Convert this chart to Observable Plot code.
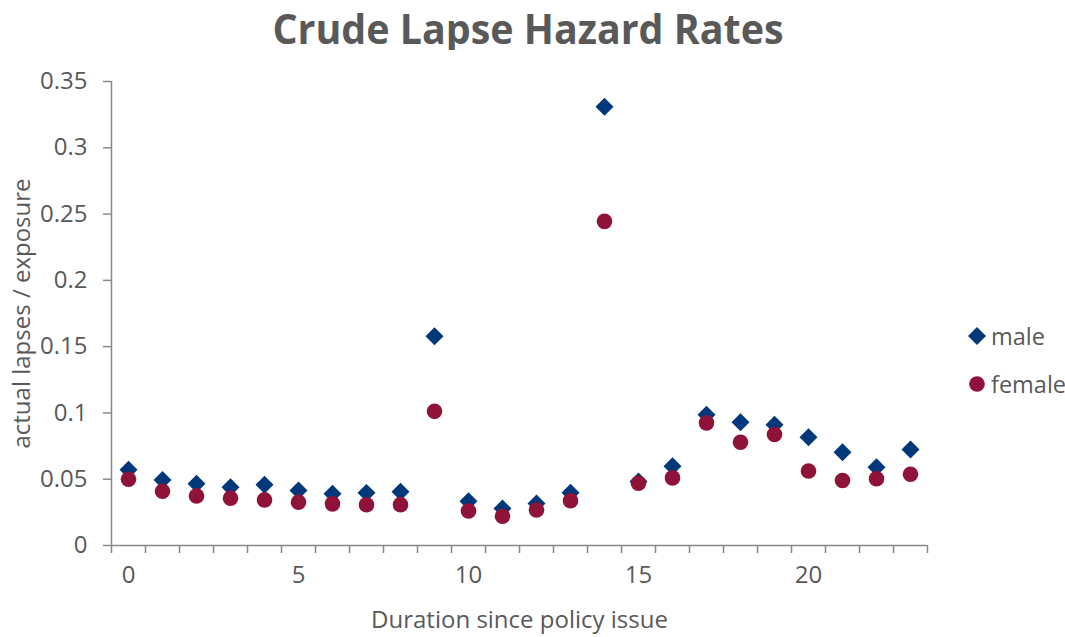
<!DOCTYPE html>
<html><head><meta charset="utf-8">
<script src="https://cdn.jsdelivr.net/npm/d3@7"></script>
<script src="https://cdn.jsdelivr.net/npm/@observablehq/plot@0.6"></script>
<style>
body{margin:0;background:#fff;font-family:"Open Sans",sans-serif;}
#wrap{position:relative;width:1065px;height:637px;overflow:hidden;}
#title{position:absolute;left:0;top:0;width:1055px;height:56px;text-align:center;font-family:"Open Sans",sans-serif;font-weight:700;font-size:41px;line-height:56px;color:#595959;white-space:nowrap;}
#title span{display:inline-block;transform-origin:center;}
#chart{position:absolute;left:0;top:50px;}
#legend{position:absolute;left:966px;top:319px;font-size:23.5px;color:#595959;}
#legend div{display:flex;align-items:center;height:34px;margin-bottom:14px;}
#legend svg{margin-right:3px;}
</style></head><body>
<div id="wrap">
<div id="title"><span>Crude Lapse Hazard Rates</span></div>
<div id="chart"></div>
<div id="legend"></div>
</div>
<script>
const durations = [0,1,2,3,4,5,6,7,8,9,10,11,12,13,14,15,16,17,18,19,20,21,22,23];
const male   = [0.0572,0.0495,0.0465,0.0439,0.0458,0.0415,0.0390,0.0397,0.0405,0.1578,0.0334,0.0279,0.0317,0.0398,0.3309,0.0482,0.0598,0.0987,0.0930,0.0910,0.0816,0.0703,0.0590,0.0724];
const female = [0.0500,0.0409,0.0374,0.0357,0.0344,0.0327,0.0314,0.0307,0.0308,0.1012,0.0260,0.0221,0.0268,0.0338,0.2445,0.0470,0.0510,0.0925,0.0779,0.0837,0.0562,0.0490,0.0503,0.0538];
const yTicks = [0,0.05,0.1,0.15,0.2,0.25,0.3,0.35];
const xLabelTicks = [0,5,10,15,20];
const xBoundaryTicks = [-0.5,0.5,1.5,2.5,3.5,4.5,5.5,6.5,7.5,8.5,9.5,10.5,11.5,12.5,13.5,14.5,15.5,16.5,17.5,18.5,19.5,20.5,21.5,22.5,23.5];
const seriesNames = ["male","female"];
const seriesColors = ["#00387a","#8f1239"];
const xTitle = "Duration since policy issue";
const yTitle = "actual lapses / exposure";

const maleRows = durations.map((d,i)=>({duration:d, rate:male[i]}));
const femaleRows = durations.map((d,i)=>({duration:d, rate:female[i]}));
const axisColor = "#898989", textColor = "#595959";

const chart = Plot.plot({
  width:1065, height:587,
  marginLeft:111, marginRight:138, marginTop:31, marginBottom:92,
  x:{domain:[xBoundaryTicks[0], xBoundaryTicks[xBoundaryTicks.length-1]]},
  y:{domain:[yTicks[0], yTicks[yTicks.length-1]]},
  style:{fontFamily:"'Open Sans', sans-serif", fontSize:"24px", color:textColor, background:"#fff"},
  marks:[
    Plot.ruleY([0], {stroke:axisColor, strokeWidth:1.5}),
    Plot.ruleX([xBoundaryTicks[0]], {stroke:axisColor, strokeWidth:1.5}),
    Plot.axisY(yTicks, {tickSize:8, tickPadding:16, stroke:axisColor, strokeWidth:1.5, fill:textColor, fontSize:24, label:null, tickFormat:d=>String(+d.toFixed(2))}),
    Plot.axisX(xBoundaryTicks, {tickSize:8, stroke:axisColor, strokeWidth:1.5, tickFormat:()=>"", label:null}),
    Plot.axisX(xLabelTicks, {tickSize:0, tickPadding:20, fill:textColor, fontSize:24, label:null}),
    Plot.text([xTitle], {text:d=>d, frameAnchor:"bottom", lineAnchor:"middle", dy:75, fill:textColor, fontSize:24}),
    Plot.text([yTitle], {text:d=>d, frameAnchor:"left", textAnchor:"middle", lineAnchor:"middle", rotate:-90, dx:-89, fill:textColor, fontSize:24}),
    Plot.dot(maleRows, {x:"duration", y:"rate", symbol:"diamond2", r:8.1, fill:seriesColors[0], stroke:null}),
    Plot.dot(femaleRows, {x:"duration", y:"rate", symbol:"circle", r:7.8, fill:seriesColors[1], stroke:null})
  ]
});
document.getElementById("chart").appendChild(chart);

// legend
const leg = document.getElementById("legend");
seriesNames.forEach((name,i)=>{
  const row = document.createElement("div");
  const shape = i===0
    ? `<svg width="22" height="22" viewBox="-11 -11 22 22"><path d="M0,-9L9,0L0,9L-9,0Z" fill="${seriesColors[0]}"/></svg>`
    : `<svg width="22" height="22" viewBox="-11 -11 22 22"><circle r="7.8" fill="${seriesColors[1]}"/></svg>`;
  row.innerHTML = shape + `<span>${name}</span>`;
  leg.appendChild(row);
});

// fit title width to reference proportions
const span = document.querySelector("#title span");
const w = span.getBoundingClientRect().width;
span.style.transform = `scaleX(${511/w})`;
</script>
</body></html>
